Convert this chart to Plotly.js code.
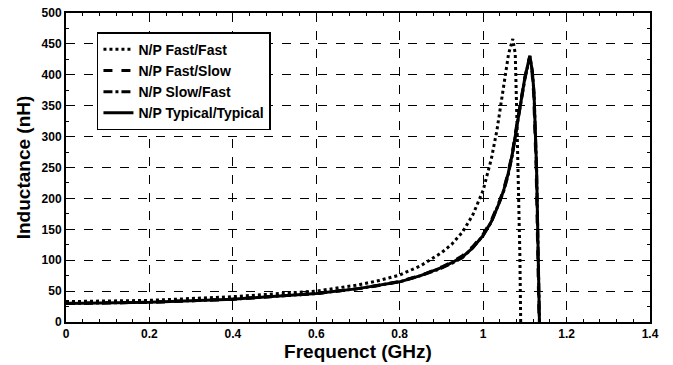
<!DOCTYPE html>
<html>
<head>
<meta charset="utf-8">
<script src="https://cdn.plot.ly/plotly-3.0.1.min.js"></script>
<style>html,body{margin:0;padding:0;background:#fff;}#chart{width:673px;height:365px;}</style>
</head>
<body>
<div id="chart"></div>
<script>
// Frequency (GHz) and inductance (nH)
const ffX = [0, 0.2, 0.4, 0.5, 0.6, 0.7, 0.75, 0.8, 0.85, 0.9, 0.925, 0.95, 0.975, 1.0, 1.02, 1.033, 1.049, 1.061, 1.071, 1.077, 1.081, 1.085, 1.088, 1.09];
const ffY = [33, 35, 41, 45, 50, 60, 67, 76, 91, 112, 126, 145, 173, 213, 265, 310, 380, 434, 458, 434, 326, 218, 110, 0];

const fsX = [0, 0.2, 0.4, 0.5, 0.6, 0.7, 0.75, 0.8, 0.85, 0.9, 0.925, 0.95, 0.975, 1.0, 1.02, 1.04, 1.05, 1.06, 1.07, 1.08, 1.09, 1.1, 1.111, 1.117, 1.121, 1.124, 1.127, 1.129, 1.131, 1.133, 1.134];
const fsY = [30, 32, 37, 41, 46, 54, 59, 66, 75, 89, 97, 107, 122, 142, 165, 197, 217, 242, 274, 317, 360, 396, 428, 405, 370, 320, 250, 180, 100, 40, 0];

const sfX = [0, 0.2, 0.4, 0.5, 0.6, 0.7, 0.75, 0.8, 0.85, 0.9, 0.925, 0.95, 0.975, 1.0, 1.02, 1.04, 1.05, 1.06, 1.07, 1.08, 1.09, 1.1, 1.112, 1.118, 1.122, 1.125, 1.128, 1.13, 1.132, 1.134, 1.135];
const sfY = [30, 32, 37, 41, 46, 54, 59, 65, 75, 87, 95, 104, 120, 140, 162, 194, 213, 238, 270, 313, 356, 393, 430, 405, 370, 320, 250, 180, 100, 40, 0];

const ttX = [0, 0.2, 0.4, 0.5, 0.6, 0.7, 0.75, 0.8, 0.85, 0.9, 0.925, 0.95, 0.975, 1.0, 1.02, 1.04, 1.05, 1.06, 1.07, 1.08, 1.09, 1.1, 1.112, 1.118, 1.122, 1.125, 1.128, 1.13, 1.132, 1.134, 1.135];
const ttY = [30, 32, 37, 41, 46, 54, 59, 65, 75, 88, 96, 105, 120, 140, 163, 195, 215, 240, 272, 315, 358, 395, 431, 405, 370, 320, 250, 180, 100, 40, 0];

const names = ['N/P Fast/Fast', 'N/P Fast/Slow', 'N/P Slow/Fast', 'N/P Typical/Typical'];

const font = {family: 'Liberation Sans, Arial, sans-serif', color: '#000'};

const traces = [
  {x: ffX, y: ffY, name: names[0], mode: 'lines', line: {color: '#000', width: 3, dash: 'dot'}},
  {x: fsX, y: fsY, name: names[1], mode: 'lines', line: {color: '#000', width: 3, dash: 'dash'}},
  {x: sfX, y: sfY, name: names[2], mode: 'lines', line: {color: '#000', width: 3, dash: 'dashdot'}},
  {x: ttX, y: ttY, name: names[3], mode: 'lines', line: {color: '#000', width: 3, dash: 'solid'}}
];

const axisCommon = {
  showline: true, linecolor: '#000', linewidth: 2, mirror: 'ticks',
  ticks: 'inside', ticklen: 5, tickcolor: '#000', tickwidth: 1,
  showgrid: true, gridcolor: '#000', gridwidth: 1, griddash: 'dash',
  zeroline: false,
  tickfont: Object.assign({size: 12, weight: 'bold'}, font)
};

const layout = {
  width: 673, height: 365,
  margin: {l: 66, r: 23, t: 13, b: 43},
  paper_bgcolor: '#fff', plot_bgcolor: '#fff',
  showlegend: true,
  legend: {
    x: 0.053, y: 0.938, xanchor: 'left', yanchor: 'top',
    bgcolor: '#fff', bordercolor: '#000', borderwidth: 1.5,
    font: Object.assign({size: 14, weight: 'bold'}, font),
    tracegroupgap: 0, itemwidth: 30
  },
  xaxis: Object.assign({}, axisCommon, {
    range: [0, 1.4], dtick: 0.2, tick0: 0,
    minor: {ticks: 'inside', ticklen: 3, tickcolor: '#000', dtick: 0.04, showgrid: false},
    title: {text: 'Frequenct (GHz)', font: Object.assign({size: 19, weight: 'bold'}, font), standoff: 2}
  }),
  yaxis: Object.assign({}, axisCommon, {
    range: [0, 500], dtick: 50, tick0: 0,
    minor: {ticks: 'inside', ticklen: 3, tickcolor: '#000', dtick: 25, showgrid: false},
    title: {text: 'Inductance (nH)', font: Object.assign({size: 19, weight: 'bold'}, font), standoff: 6}
  })
};

Plotly.newPlot('chart', traces, layout, {displayModeBar: false, staticPlot: true});
</script>
</body>
</html>
